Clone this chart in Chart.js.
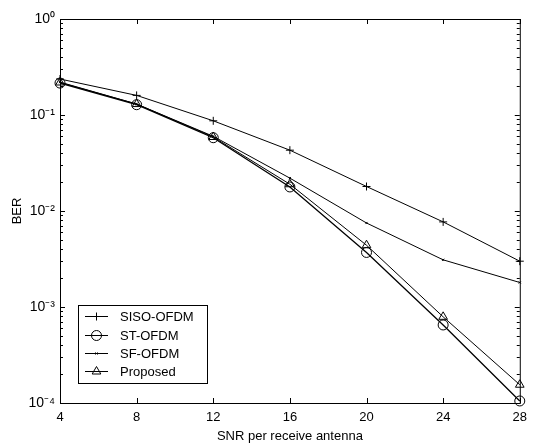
<!DOCTYPE html>
<html>
<head>
<meta charset="utf-8">
<script src="https://cdn.jsdelivr.net/npm/chart.js@4.4.1/dist/chart.umd.min.js"></script>
<style>
  html, body { margin: 0; padding: 0; background: #fff; }
  #wrap { width: 534px; height: 446px; }
</style>
</head>
<body>
<div id="wrap"><canvas id="berChart"></canvas></div>
<script>
// SNR points (dB) and BER curves
const snr = [4, 8, 12, 16, 20, 24, 28];
const sisoOfdm = [0.237, 0.16, 0.087, 0.043, 0.018, 0.0077, 0.003];
const stOfdm = [0.215, 0.128, 0.058, 0.0178, 0.0037, 0.00065, 0.000105];
const sfOfdm = [0.22, 0.13, 0.06, 0.022, 0.0075, 0.0031, 0.0018];
const proposed = [0.218, 0.13, 0.059, 0.019, 0.0044, 0.00079, 0.000155];
const decades = [0, -1, -2, -3, -4];

const sup = { '0': '⁰', '1': '¹', '2': '²', '3': '³', '4': '⁴', '-': '⁻' };
const fmtPow = e => '10' + String(e).split('').map(c => sup[c]).join('');
const toXY = ys => snr.map((x, i) => ({ x: x, y: ys[i] }));

function series(label, ys, style, radius, width) {
    return {
        label: label,
        data: toXY(ys),
        borderColor: '#000',
        borderWidth: width,
        pointStyle: style,
        pointRadius: radius,
        pointBorderColor: '#000',
        pointBackgroundColor: 'rgba(0,0,0,0)',
        pointBorderWidth: 1,
        clip: false,
        tension: 0
    };
}

// box, inward ticks (MATLAB style) and legend inside the plot
const axesBox = {
    id: 'axesBox',
    afterDatasetsDraw(chart) {
        const { ctx, chartArea: a, scales } = chart;
        const xs = scales.x, ys = scales.y;
        ctx.save();
        ctx.strokeStyle = '#000';
        ctx.lineWidth = 1;
        ctx.strokeRect(a.left + 0.5, a.top + 0.5, a.right - a.left, a.bottom - a.top);
        ctx.beginPath();
        snr.forEach(v => {
            const px = Math.round(xs.getPixelForValue(v)) + 0.5;
            ctx.moveTo(px, a.bottom); ctx.lineTo(px, a.bottom - 5);
            ctx.moveTo(px, a.top); ctx.lineTo(px, a.top + 5);
        });
        decades.forEach(e => {
            const py = Math.round(ys.getPixelForValue(Math.pow(10, e))) + 0.5;
            ctx.moveTo(a.left, py); ctx.lineTo(a.left + 5, py);
            ctx.moveTo(a.right, py); ctx.lineTo(a.right - 5, py);
            if (e > -4) {
                for (let m = 2; m <= 9; m++) {
                    const pm = Math.round(ys.getPixelForValue(m * Math.pow(10, e - 1))) + 0.5;
                    ctx.moveTo(a.left, pm); ctx.lineTo(a.left + 3, pm);
                    ctx.moveTo(a.right, pm); ctx.lineTo(a.right - 3, pm);
                }
            }
        });
        ctx.stroke();

        // legend
        const lx = 78, ly = 305, lw = 129, lh = 78;
        ctx.fillStyle = '#fff';
        ctx.fillRect(lx, ly, lw, lh);
        ctx.strokeRect(lx + 0.5, ly + 0.5, lw, lh);
        const rows = [316, 335, 353, 371];
        ctx.font = '13px "Liberation Sans", Arial, sans-serif';
        ctx.textBaseline = 'middle';
        chart.data.datasets.forEach((ds, i) => {
            const y = rows[i] + 0.5;
            ctx.beginPath();
            ctx.moveTo(85, y); ctx.lineTo(108, y);
            ctx.lineWidth = 1;
            ctx.stroke();
            ctx.fillStyle = 'rgba(0,0,0,0)';
            Chart.helpers.drawPoint(ctx, {
                pointStyle: ds.pointStyle, radius: ds.pointRadius, rotation: 0, borderWidth: 1
            }, 96.5, y);
            ctx.fillStyle = '#000';
            ctx.fillText(ds.label, 120, rows[i] + 1);
        });
        ctx.restore();
    }
};

const ctx = document.getElementById('berChart').getContext('2d');
const berChart = new Chart(ctx, {
    type: 'line',
    data: {
        datasets: [
            series('SISO-OFDM', sisoOfdm, 'cross', 4, 1),
            series('ST-OFDM', stOfdm, 'circle', 5, 1.3),
            series('SF-OFDM', sfOfdm, 'crossRot', 1.5, 1),
            series('Proposed', proposed, 'triangle', 5, 1)
        ]
    },
    options: {
        responsive: true,
        maintainAspectRatio: false,
        animation: false,
        layout: { padding: { left: 0, right: 6, top: 19, bottom: 0 } },
        plugins: { legend: { display: false }, tooltip: { enabled: false } },
        scales: {
            x: {
                type: 'linear',
                min: 4,
                max: 28,
                afterFit: s => { s.height = 43; },
                grid: { display: false, drawTicks: false },
                border: { display: false },
                ticks: {
                    stepSize: 4,
                    padding: 7,
                    color: '#000',
                    font: { family: '"Liberation Sans", Arial, sans-serif', size: 13 }
                },
                title: {
                    display: true,
                    text: 'SNR per receive antenna',
                    color: '#000',
                    padding: { top: 0, bottom: 2 },
                    font: { family: '"Liberation Sans", Arial, sans-serif', size: 13 }
                }
            },
            y: {
                type: 'logarithmic',
                min: 1e-4,
                max: 1,
                afterFit: s => { s.width = 60; },
                afterBuildTicks: s => { s.ticks = decades.map(e => ({ value: Math.pow(10, e) })); },
                grid: { display: false, drawTicks: false },
                border: { display: false },
                ticks: {
                    padding: 5,
                    color: '#000',
                    font: { family: '"Liberation Sans", Arial, sans-serif', size: 14 },
                    callback: v => fmtPow(Math.round(Math.log10(v)))
                },
                title: {
                    display: true,
                    text: 'BER',
                    color: '#000',
                    padding: { top: 10, bottom: 0 },
                    font: { family: '"Liberation Sans", Arial, sans-serif', size: 13 }
                }
            }
        }
    },
    plugins: [axesBox]
});
</script>
</body>
</html>
